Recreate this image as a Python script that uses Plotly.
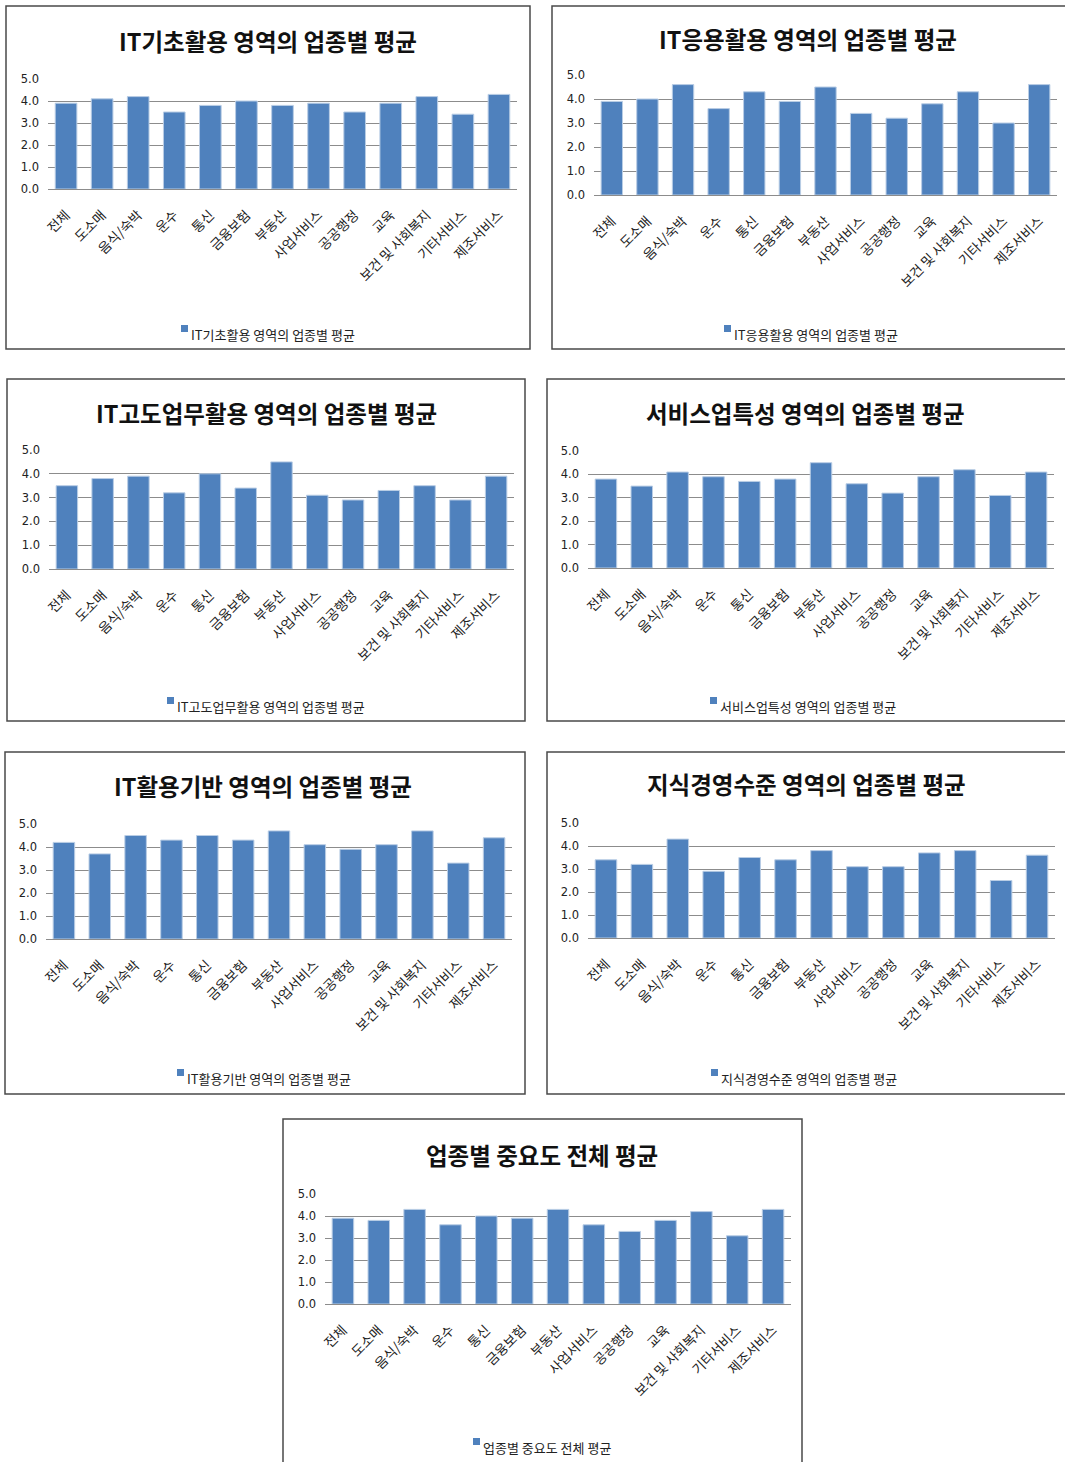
import plotly.graph_objects as go

W, H = 1065, 1462

categories = ["전체", "도소매", "음식/숙박", "운수", "통신", "금융보험", "부동산",
              "사업서비스", "공공행정", "교육", "보건 및 사회복지", "기타서비스", "제조서비스"]

titles = [
    "IT기초활용 영역의 업종별 평균",
    "IT응용활용 영역의 업종별 평균",
    "IT고도업무활용 영역의 업종별 평균",
    "서비스업특성 영역의 업종별 평균",
    "IT활용기반 영역의 업종별 평균",
    "지식경영수준 영역의 업종별 평균",
    "업종별 중요도 전체 평균",
]

it_basic = [3.9, 4.1, 4.2, 3.5, 3.8, 4.0, 3.8, 3.9, 3.5, 3.9, 4.2, 3.4, 4.3]
it_applied = [3.9, 4.0, 4.6, 3.6, 4.3, 3.9, 4.5, 3.4, 3.2, 3.8, 4.3, 3.0, 4.6]
it_advanced = [3.5, 3.8, 3.9, 3.2, 4.0, 3.4, 4.5, 3.1, 2.9, 3.3, 3.5, 2.9, 3.9]
service_traits = [3.8, 3.5, 4.1, 3.9, 3.7, 3.8, 4.5, 3.6, 3.2, 3.9, 4.2, 3.1, 4.1]
it_foundation = [4.2, 3.7, 4.5, 4.3, 4.5, 4.3, 4.7, 4.1, 3.9, 4.1, 4.7, 3.3, 4.4]
knowledge_mgmt = [3.4, 3.2, 4.3, 2.9, 3.5, 3.4, 3.8, 3.1, 3.1, 3.7, 3.8, 2.5, 3.6]
overall = [3.9, 3.8, 4.3, 3.6, 4.0, 3.9, 4.3, 3.6, 3.3, 3.8, 4.2, 3.1, 4.3]

series = [it_basic, it_applied, it_advanced, service_traits, it_foundation, knowledge_mgmt, overall]

y_ticks = [0, 1, 2, 3, 4, 5]

# layout in pixels: box (x0,y0,x1,y1), plot area (x0,x1,ytop,ybottom),
# title centre (tx, ty), legend square left edge and text line (sx, ly)
panels = [
    dict(box=(6, 6, 530, 349), plot=(48, 517, 79, 189), tx=268, ty=41, sx=181, ly=334),
    dict(box=(552, 6, 1075, 349), plot=(594, 1057, 75, 195), tx=808, ty=39, sx=724, ly=334),
    dict(box=(7, 379, 525, 721), plot=(49, 514, 450, 569), tx=266, ty=413, sx=167, ly=706),
    dict(box=(547, 379, 1075, 721), plot=(588, 1054, 451, 568), tx=805, ty=413, sx=710, ly=706),
    dict(box=(5, 752, 525, 1094), plot=(46, 512, 824, 939), tx=263, ty=786, sx=177, ly=1078),
    dict(box=(547, 752, 1075, 1094), plot=(588, 1055, 823, 938), tx=806, ty=784, sx=711, ly=1078),
    dict(box=(283, 1119, 802, 1480), plot=(325, 791, 1194, 1304), tx=542, ty=1155, sx=473, ly=1447),
]

BAR = "#4F81BD"
FONT = "Noto Sans CJK KR"

def px(x):
    return x / W

def py(y):
    return 1 - y / H

fig = go.Figure()
shapes = []
annotations = []
layout_axes = {}

for i, (p, vals, title) in enumerate(zip(panels, series, titles)):
    n = i + 1
    xa = "x" if n == 1 else f"x{n}"
    ya = "y" if n == 1 else f"y{n}"
    xkey = "xaxis" if n == 1 else f"xaxis{n}"
    ykey = "yaxis" if n == 1 else f"yaxis{n}"

    fig.add_trace(go.Bar(
        x=categories, y=vals, name=title,
        marker=dict(color=BAR, line=dict(color="#B9CDE5", width=1)),
        xaxis=xa, yaxis=ya, showlegend=False, width=0.6,
    ))

    x0, x1, yt, yb = p["plot"]
    layout_axes[xkey] = dict(
        domain=[px(x0), px(x1)], anchor=ya, type="category", automargin=False,
        tickangle=-45, tickfont=dict(family=FONT, size=13.5, color="#222"),
        showgrid=False, showline=True, linecolor="#8c8c8c", linewidth=1,
        ticks="", ticklabelstandoff=12, fixedrange=True,
    )
    layout_axes[ykey] = dict(
        domain=[py(yb), py(yt)], anchor=xa, range=[0, 5], tickvals=y_ticks, automargin=False,
        tickformat=".1f", tickfont=dict(family="DejaVu Sans", size=11.5, color="#222"),
        showgrid=True, gridcolor="#8c8c8c", gridwidth=1, zeroline=False,
        showline=False, ticks="", ticklabelstandoff=8, fixedrange=True,
    )

    bx0, by0, bx1, by1 = p["box"]
    shapes.append(dict(type="rect", xref="paper", yref="paper",
                       x0=px(bx0), x1=px(bx1), y0=py(by1), y1=py(by0),
                       line=dict(color="#4a4a4a", width=1.5), fillcolor="rgba(0,0,0,0)", layer="below"))
    annotations.append(dict(
        text=f"<b>{title}</b>", xref="paper", yref="paper",
        x=px(p["tx"]), y=py(p["ty"]),
        xanchor="center", yanchor="middle", showarrow=False,
        font=dict(family=FONT, size=23.5, color="#111"),
    ))
    # legend entry: small raised series-coloured square followed by the series name
    sx, ly = p["sx"], p["ly"]
    shapes.append(dict(type="rect", xref="paper", yref="paper",
                       x0=px(sx), x1=px(sx + 7), y0=py(ly - 2), y1=py(ly - 9),
                       line=dict(width=0), fillcolor=BAR))
    annotations.append(dict(
        text=title, xref="paper", yref="paper",
        x=px(sx + 8), y=py(ly), xanchor="left", yanchor="middle", showarrow=False,
        font=dict(family=FONT, size=13, color="#222"),
    ))

fig.update_layout(
    width=W, height=H, margin=dict(l=0, r=0, t=0, b=0, autoexpand=False),
    paper_bgcolor="white", plot_bgcolor="white",
    shapes=shapes, annotations=annotations, bargap=0.4,
    **layout_axes,
)

fig.write_html("out.html")
